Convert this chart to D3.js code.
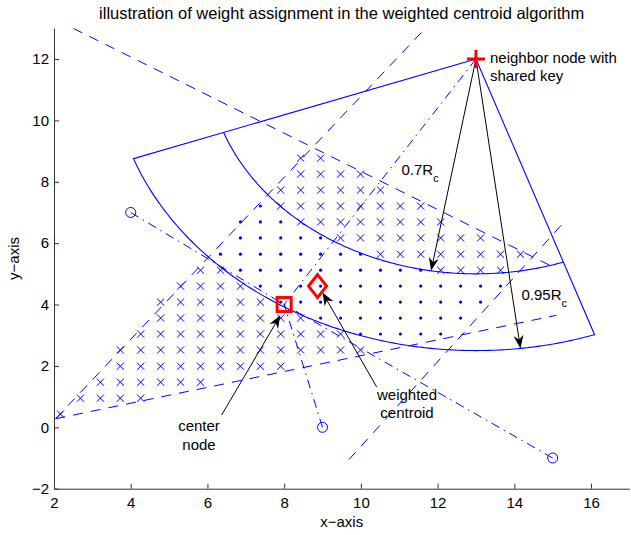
<!DOCTYPE html>
<html>
<head>
<meta charset="utf-8">
<script src="https://cdn.jsdelivr.net/npm/d3@7"></script>
<style>
  body { margin: 0; background: #fff; }
  text { font-family: "Liberation Sans", Arial, Helvetica, sans-serif; fill: #000; }
</style>
</head>
<body>
<svg id="chart" width="631" height="535"></svg>
<script>
// ---- data ----
const xDomain = [2, 17];
const yDomain = [-2, 13];
const xTicks = [2, 4, 6, 8, 10, 12, 14, 16];
const yTicks = [-2, 0, 2, 4, 6, 8, 10, 12];

// candidate grid positions
const gridX = [2.17, 2.69, 3.21, 3.73, 4.26, 4.78, 5.30, 5.82, 6.34, 6.86, 7.38, 7.91, 8.43, 8.95,
               9.47, 9.99, 10.51, 11.03, 11.56, 12.08, 12.60, 13.12, 13.64, 14.16, 14.68, 15.21, 15.73, 16.25];
const gridY = [0.43, 0.95, 1.47, 1.99, 2.52, 3.04, 3.56, 4.08, 4.60, 5.12, 5.64, 6.17, 6.69, 7.21, 7.73, 8.25, 8.77];
// one entry per grid row, bottom to top: [first column, marks]; x = outside the ring, . = inside the ring
const markRows = [
  [0,  "x"],
  [1,  "xxxx"],
  [2,  "xxxxxx"],
  [3,  "xxxxxxxxx"],
  [3,  "xxxxxxxxxxxxx"],
  [4,  "xxxxxxxxxxx....."],
  [5,  "xxxxxxxx........"],
  [5,  "xxxxxx..........."],
  [6,  "xxxx............."],
  [7,  "xx..........xxxx"],
  [8,  "........xxxxxxxx"],
  [9,  ".....xxxxxxxx"],
  [9,  "...xxxxxxxx"],
  [10, ".xxxxxxxx"],
  [11, "xxxxxx"],
  [12, "xxxx"],
  [12, "xx"]
];

const keyNode = [13, 12];
const centerNode = [8, 4];
const weightedCentroid = [8.87, 4.6];
const otherNodes = [[4, 7], [9, 0], [15, -1]];
const ringRadii = [7, 9.5];          // 0.7 Rc and 0.95 Rc
const sectorAngles = [-160, -71];    // degrees

const boundaryLines = [
  [[2.50, 13.00], [15.10, 5.17]],
  [[2.04, 0.28], [11.68, 13.00]],
  [[2.04, 0.28], [15.10, 3.65]],
  [[9.69, -1.05], [15.30, 6.69]]
];
const radiusTips = [[11.83, 5.10], [14.16, 2.57]];
const calloutArrows = [
  [[6.37, 0.40], [7.90, 3.65]],
  [[10.41, 1.32], [9.00, 4.39]]
];

// ---- drawing ----
const svg = d3.select("#chart");
const pL = 54, pR = 629.4, pT = 28.3, pB = 488.7;
const x = d3.scaleLinear(xDomain, [pL, pR]);
const y = d3.scaleLinear(yDomain, [pB, pT]);
const BLUE = "#0000ff", RED = "#ff0000";

svg.append("defs").append("clipPath").attr("id", "plotClip")
  .append("rect").attr("x", pL).attr("y", pT).attr("width", pR - pL).attr("height", pB - pT);

const plot = svg.append("g").attr("clip-path", "url(#plotClip)");

// grid marks
const marks = [];
markRows.forEach(([start, s], j) => {
  for (let i = 0; i < s.length; i++) {
    if (s[i] === "x" || s[i] === ".") marks.push({ gx: gridX[start + i], gy: gridY[j], kind: s[i] });
  }
});
const cs = 3.6;
plot.append("g").selectAll("path").data(marks.filter(m => m.kind === "x")).join("path")
  .attr("d", m => {
    const px = x(m.gx), py = y(m.gy);
    return `M${px - cs},${py - cs}L${px + cs},${py + cs}M${px - cs},${py + cs}L${px + cs},${py - cs}`;
  })
  .attr("stroke", BLUE).attr("stroke-width", 1).attr("fill", "none");
plot.append("g").selectAll("circle").data(marks.filter(m => m.kind === ".")).join("circle")
  .attr("cx", m => x(m.gx)).attr("cy", m => y(m.gy)).attr("r", 1.6).attr("fill", BLUE);

// dashed boundary lines
plot.append("g").selectAll("line").data(boundaryLines).join("line")
  .attr("x1", d => x(d[0][0])).attr("y1", d => y(d[0][1]))
  .attr("x2", d => x(d[1][0])).attr("y2", d => y(d[1][1]))
  .attr("stroke", BLUE).attr("stroke-width", 1).attr("stroke-dasharray", "10,8");

// dash-dot lines from each node to the center node
plot.append("g").selectAll("line").data(otherNodes.concat([keyNode])).join("line")
  .attr("x1", d => x(d[0])).attr("y1", d => y(d[1]))
  .attr("x2", x(centerNode[0])).attr("y2", y(centerNode[1]))
  .attr("stroke", BLUE).attr("stroke-width", 1).attr("stroke-dasharray", "9,5,1.5,5");

// ring sector around the key node
const polar = (deg, r) => [keyNode[0] + r * Math.cos(deg * Math.PI / 180), keyNode[1] + r * Math.sin(deg * Math.PI / 180)];
const arcPts = r => d3.range(sectorAngles[0], sectorAngles[1] + 0.001, 0.5).map(a => polar(a, r));
const line = d3.line().x(d => x(d[0])).y(d => y(d[1]));
plot.append("path")
  .attr("d", line([keyNode].concat(arcPts(ringRadii[1])).concat([keyNode])))
  .attr("fill", "none").attr("stroke", BLUE).attr("stroke-width", 1.1);
plot.append("path")
  .attr("d", line(arcPts(ringRadii[0])))
  .attr("fill", "none").attr("stroke", BLUE).attr("stroke-width", 1.1);

// other nodes
plot.append("g").selectAll("circle").data(otherNodes).join("circle")
  .attr("cx", d => x(d[0])).attr("cy", d => y(d[1])).attr("r", 5)
  .attr("fill", "none").attr("stroke", BLUE).attr("stroke-width", 1);

// arrows
function arrow(g, p1, p2) {
  const x1 = x(p1[0]), y1 = y(p1[1]), x2 = x(p2[0]), y2 = y(p2[1]);
  const L = Math.hypot(x2 - x1, y2 - y1), ux = (x2 - x1) / L, uy = (y2 - y1) / L;
  const hl = 13, hw = 5, notch = 4;
  const bx = x2 - ux * hl, by = y2 - uy * hl, nx = -uy, ny = ux;
  const mx = x2 - ux * (hl - notch), my = y2 - uy * (hl - notch);
  g.append("line").attr("x1", x1).attr("y1", y1).attr("x2", mx).attr("y2", my)
    .attr("stroke", "#000").attr("stroke-width", 1);
  g.append("path")
    .attr("d", `M${x2},${y2}L${bx + nx * hw},${by + ny * hw}L${mx},${my}L${bx - nx * hw},${by - ny * hw}Z`)
    .attr("fill", "#000");
}
const arrows = svg.append("g");
radiusTips.forEach(t => arrow(arrows, keyNode, t));
calloutArrows.forEach(a => arrow(arrows, a[0], a[1]));

// red markers
const red = svg.append("g").attr("fill", "none").attr("stroke", RED).attr("stroke-width", 3);
{
  const px = x(keyNode[0]), py = y(keyNode[1]), h = 9;
  red.append("path").attr("d", `M${px - h},${py}L${px + h},${py}M${px},${py - h}L${px},${py + h}`);
}
{
  const px = x(centerNode[0]), py = y(centerNode[1]), h = 7;
  red.append("rect").attr("x", px - h).attr("y", py - h).attr("width", 2 * h).attr("height", 2 * h);
}
{
  const px = x(weightedCentroid[0]), py = y(weightedCentroid[1]), w = 9, h = 11.5;
  red.append("path").attr("d", `M${px},${py - h}L${px + w},${py}L${px},${py + h}L${px - w},${py}Z`);
}

// axes
const axisColor = "#333";
const xAxis = svg.append("g").attr("transform", `translate(0,${pB})`)
  .call(d3.axisBottom(x).tickValues(xTicks).tickSizeInner(-5).tickSizeOuter(0).tickPadding(9)
    .tickFormat(d => String(d).replace("-", "\u2212")));
const yAxis = svg.append("g").attr("transform", `translate(${pL},0)`)
  .call(d3.axisLeft(y).tickValues(yTicks).tickSizeInner(-5).tickSizeOuter(0).tickPadding(5)
    .tickFormat(d => String(d).replace("-", "\u2212")));
[xAxis, yAxis].forEach(a => {
  a.select(".domain").attr("stroke", axisColor);
  a.selectAll(".tick line").attr("stroke", axisColor);
  a.selectAll("text").attr("font-size", 15).attr("font-family", "'Liberation Sans', Arial, sans-serif").attr("fill", "#000");
});

// titles and labels
svg.append("text").attr("x", (pL + pR) / 2).attr("y", 18.5).attr("text-anchor", "middle")
  .attr("font-size", 16.5).text("illustration of weight assignment in the weighted centroid algorithm");
svg.append("text").attr("x", (pL + pR) / 2).attr("y", 527).attr("text-anchor", "middle")
  .attr("font-size", 15).text("x\u2212axis");
svg.append("text").attr("transform", `translate(19,${(pT + pB) / 2}) rotate(-90)`).attr("text-anchor", "middle")
  .attr("font-size", 15).text("y\u2212axis");

const notes = svg.append("g").attr("font-size", 15);
notes.append("text").attr("x", 490).attr("y", 63).text("neighbor node with");
notes.append("text").attr("x", 490).attr("y", 81).text("shared key");
const t1 = notes.append("text").attr("x", 401.5).attr("y", 175);
t1.append("tspan").text("0.7R");
t1.append("tspan").attr("font-size", 11).attr("dy", 7).text("c");
const t2 = notes.append("text").attr("x", 521.5).attr("y", 300);
t2.append("tspan").text("0.95R");
t2.append("tspan").attr("font-size", 11).attr("dy", 7).text("c");
notes.append("text").attr("x", 199).attr("y", 431).attr("text-anchor", "middle").text("center");
notes.append("text").attr("x", 199).attr("y", 450).attr("text-anchor", "middle").text("node");
notes.append("text").attr("x", 407).attr("y", 400).attr("text-anchor", "middle").text("weighted");
notes.append("text").attr("x", 407).attr("y", 418).attr("text-anchor", "middle").text("centroid");
</script>
</body>
</html>
